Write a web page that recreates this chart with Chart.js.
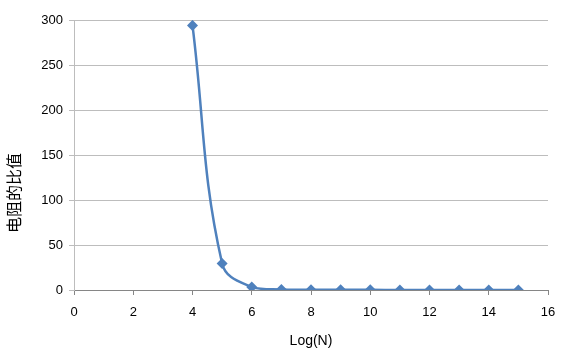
<!DOCTYPE html>
<html>
<head>
<meta charset="utf-8">
<script src="https://cdn.jsdelivr.net/npm/chart.js@4"></script>
<style>
  html, body { margin: 0; padding: 0; background: #fff; }
  #wrap { width: 562px; height: 354px; }
</style>
</head>
<body>
<div id="wrap"><canvas id="ratioChart" width="562" height="354"></canvas></div>
<script>
// values
var logN = [4, 5, 6, 7, 8, 9, 10, 11, 12, 13, 14, 15];
var ratio = [294, 29.5, 3.2, 0.5, 0.3, 0.2, 0.15, 0.1, 0.1, 0.1, 0.1, 0.1];
var xTitle = 'Log(N)';
var yTitle = '电阻的比值';

var blue = '#4F81BD';
var grid = '#BDBDBD';
var axisGrey = '#868686';

var points = logN.map(function (x, i) { return { x: x, y: ratio[i] }; });

// y title sits a bit below the middle of the plot, like the original
var yTitlePlugin = {
	id: 'yTitle',
	afterDraw: function (chart) {
		var c = chart.ctx;
		c.save();
		c.translate(14, 193);
		c.rotate(-Math.PI / 2);
		c.font = '16px "Noto Sans CJK SC"';
		c.fillStyle = '#000';
		c.textAlign = 'center';
		c.textBaseline = 'middle';
		c.fillText(yTitle, 0, 0);
		c.restore();
	}
};

const ctx = document.getElementById('ratioChart').getContext('2d');
const ratioChart = new Chart(ctx, {
	type: 'line',
	data: {
		datasets: [{
			data: points,
			borderColor: blue,
			backgroundColor: blue,
			borderWidth: 2.5,
			tension: 0.4,
			pointStyle: 'rectRot',
			pointRadius: 5.5,
			pointBorderWidth: 0,
			fill: false
		}]
	},
	options: {
		responsive: false,
		animation: false,
		layout: { padding: { top: 20, right: 14, left: 0, bottom: 0 } },
		plugins: { legend: { display: false }, tooltip: { enabled: false } },
		scales: {
			x: {
				type: 'linear',
				min: 0, max: 16,
				ticks: { stepSize: 2, color: '#000', font: { family: 'Liberation Sans', size: 13 }, padding: 10 },
				grid: { display: true, drawOnChartArea: false, drawTicks: true, tickLength: 5, color: axisGrey },
				border: { color: axisGrey, width: 1 },
				title: { display: true, text: xTitle, color: '#000', font: { family: 'Liberation Sans', size: 14 }, padding: { top: 6 } },
				afterFit: function (s) { s.height = 64; s.paddingRight = 0; s.paddingLeft = 0; }
			},
			y: {
				min: 0, max: 300,
				ticks: { stepSize: 50, color: '#000', font: { family: 'Liberation Sans', size: 13 }, padding: 6 },
				grid: { color: grid, lineWidth: 1, tickLength: 5 },
				border: { color: grid, width: 1 },
				afterFit: function (s) { s.width = 74; }
			}
		}
	},
	plugins: [yTitlePlugin]
});
</script>
</body>
</html>
